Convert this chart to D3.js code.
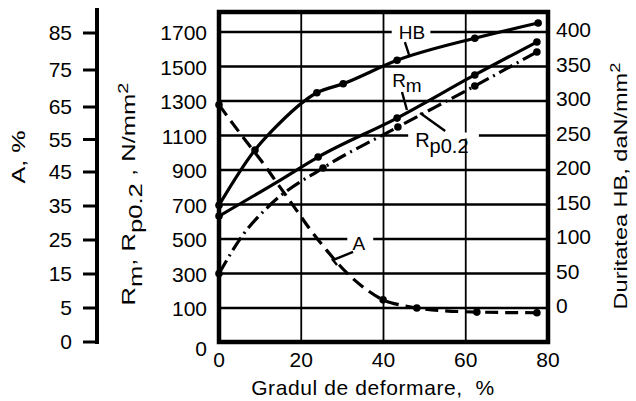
<!DOCTYPE html>
<html>
<head>
<meta charset="utf-8">
<script src="https://cdn.jsdelivr.net/npm/d3@7"></script>
<style>
  body { margin: 0; background: #fff; }
  svg { display: block; font-family: "Liberation Sans", Arial, sans-serif; }
  text { white-space: pre; }
</style>
</head>
<body>
<svg width="636" height="401"></svg>
<script>
// values; x = gradul de deformare, %
const hbDeform = [0, 8.75, 13.1, 23.8, 30.2, 43.3, 62.2, 77.6]
const hbValues = [149, 229, 258, 312, 325, 359, 391, 413]
const hbMarks  = [1, 1, 0, 1, 1, 1, 1, 1]

const rmDeform = [0, 14.1, 24.1, 43.3, 62.2, 77.3]
const rmValues = [633, 830, 975, 1201, 1451, 1642]
const rmMarks  = [1, 0, 1, 1, 1, 1]

const rpDeform = [0, 5.8, 12.4, 25.3, 43.5, 62.2, 77.3]
const rpValues = [300, 523, 697, 912, 1149, 1387, 1584]
const rpMarks  = [1, 0, 0, 1, 1, 1, 1]

const aDeform = [0, 3.4, 7.5, 10.5, 14.1, 19.0, 22.1, 26.3, 31.1, 36.0, 39.9, 44.0, 48.1, 62.7, 77.3]
const aValues = [65.6, 59.8, 53, 48.1, 41.8, 33.5, 28.2, 21.8, 15.3, 10.3, 7.4, 5.9, 5, 4.4, 4.3]
const aMarks  = [1, 0, 0, 0, 0, 0, 0, 0, 0, 0, 1, 0, 1, 1, 1]

const xTicks  = [0, 20, 40, 60, 80]
const rmTicks = [0, 100, 300, 500, 700, 900, 1100, 1300, 1500, 1700]
const hbTicks = [0, 50, 100, 150, 200, 250, 300, 350, 400]
const aTicks  = [0, 5, 15, 25, 35, 45, 55, 65, 75, 85]

const svg = d3.select("svg")
const font = 21

const x  = d3.scaleLinear().domain([0, 80]).range([219, 548])
// the printed scales are not quite linear, so use the tick positions
const rm = d3.scaleLinear().domain([0, 100, 1700]).range([342, 308, 32])
const hb = d3.scaleLinear().domain([0, 400]).range([308, 32])
const a  = d3.scaleLinear().domain([0, 5, 45, 65, 85]).range([342, 308, 172, 107, 33])

const plotTop = 12, plotBottom = 342

// grid
svg.append("g").selectAll("line")
  .data(rmTicks.filter(d => d > 0))
  .join("line")
    .attr("x1", x(0)).attr("x2", x(80))
    .attr("y1", d => rm(d)).attr("y2", d => rm(d))
    .attr("stroke", "#000").attr("stroke-width", 2.6)

svg.append("g").selectAll("line")
  .data(xTicks.slice(1, -1))
  .join("line")
    .attr("x1", d => x(d)).attr("x2", d => x(d))
    .attr("y1", plotTop).attr("y2", plotBottom)
    .attr("stroke", "#000").attr("stroke-width", 1.8)

// curves
const series = [
  {xs: hbDeform, ys: hbValues, m: hbMarks, s: hb, dash: null},
  {xs: rmDeform, ys: rmValues, m: rmMarks, s: rm, dash: null},
  {xs: rpDeform, ys: rpValues, m: rpMarks, s: rm, dash: "15,5,2,5"},
  {xs: aDeform,  ys: aValues,  m: aMarks,  s: a,  dash: "13,7"}
]

series.forEach(ser => {
  const pts = ser.xs.map((d, i) => [x(d), ser.s(ser.ys[i]), ser.m[i]])
  svg.append("path")
    .attr("d", d3.line().curve(d3.curveMonotoneX)(pts))
    .attr("fill", "none")
    .attr("stroke", "#000")
    .attr("stroke-width", 3.2)
    .attr("stroke-dasharray", ser.dash)
  svg.append("g").selectAll("circle")
    .data(pts.filter(p => p[2]))
    .join("circle")
      .attr("cx", p => p[0]).attr("cy", p => p[1])
      .attr("r", 3.8).attr("fill", "#000")
})

// frame
svg.append("rect")
  .attr("x", x(0)).attr("y", plotTop)
  .attr("width", x(80) - x(0)).attr("height", plotBottom - plotTop)
  .attr("fill", "none").attr("stroke", "#000").attr("stroke-width", 4.5)

// curve labels, with a white gap in the grid where they sit
function gap(x0, x1, y) {
  svg.append("rect").attr("x", x0).attr("y", y - 3).attr("width", x1 - x0).attr("height", 6).attr("fill", "#fff")
}
function leader(pts) {
  svg.append("path").attr("d", d3.line()(pts.map(p => [x(p[0]), rm(p[1])])))
    .attr("fill", "none").attr("stroke", "#000").attr("stroke-width", 2.4)
}

gap(x(42), x(51.4), rm(1700))
svg.append("text").attr("x", x(46.9)).attr("y", rm(1700) + 7)
  .attr("text-anchor", "middle").attr("font-size", 19).text("HB")
leader([[45.2, 1642], [46.4, 1555]])

const rmLab = svg.append("text").attr("x", x(42.1)).attr("y", rm(1381)).attr("font-size", 19)
rmLab.append("tspan").text("R")
rmLab.append("tspan").attr("dy", 5).text("m")
leader([[44.5, 1352], [45.7, 1248]])

gap(x(46), x(63.2), rm(1100))
const rpLab = svg.append("text").attr("x", x(47.7)).attr("y", rm(1033)).attr("font-size", 20)
rpLab.append("tspan").text("R")
rpLab.append("tspan").attr("dy", 6).text("p0.2")
leader([[48.9, 1230], [55, 1126]])

gap(x(31.2), x(37.5), rm(500))
svg.append("text").attr("x", x(34)).attr("y", rm(436))
  .attr("text-anchor", "middle").attr("font-size", 19).text("A")
leader([[32.6, 425], [27.7, 378], [28.7, 349]])

// bottom axis labels
svg.append("g").selectAll("text")
  .data(xTicks)
  .join("text")
    .attr("x", d => x(d)).attr("y", 367)
    .attr("text-anchor", "middle").attr("font-size", font)
    .text(d => d)

svg.append("text").attr("x", 373).attr("y", 395)
  .attr("text-anchor", "middle").attr("font-size", font)
  .attr("letter-spacing", 0.6)
  .text("Gradul de deformare,  %")

// Rm / Rp0.2 labels (no axis line)
svg.append("g").selectAll("text")
  .data(rmTicks)
  .join("text")
    .attr("x", 207)
    .attr("y", d => d === 0 ? rm(d) + 7 : rm(d) + 1)
    .attr("dy", "0.35em")
    .attr("text-anchor", "end").attr("font-size", font)
    .text(d => d)

// HB labels on the right
svg.append("g").selectAll("text")
  .data(hbTicks)
  .join("text")
    .attr("x", 556)
    .attr("y", d => hb(d) - 2)
    .attr("dy", "0.35em")
    .attr("font-size", font)
    .text(d => d)

// A axis on the far left
const aAxis = svg.append("g")
aAxis.append("line")
  .attr("x1", 97).attr("x2", 97).attr("y1", 8).attr("y2", 344)
  .attr("stroke", "#000").attr("stroke-width", 4)
aAxis.selectAll("line.tick")
  .data(aTicks)
  .join("line").attr("class", "tick")
    .attr("x1", 83).attr("x2", 97)
    .attr("y1", d => a(d)).attr("y2", d => a(d))
    .attr("stroke", "#000").attr("stroke-width", 3)
aAxis.selectAll("text")
  .data(aTicks)
  .join("text")
    .attr("x", 72).attr("y", d => a(d))
    .attr("dy", "0.35em")
    .attr("text-anchor", "end").attr("font-size", font)
    .text(d => d)

// rotated titles, stretched along their length like the print
function vTitle(cx, cy, len, parts) {
  const t = svg.append("text").attr("font-size", 18).attr("text-anchor", "middle")
  parts.forEach(p => t.append("tspan").attr("dy", p[1] || 0).attr("font-size", p[2] || null).text(p[0]))
  const w = t.node().getComputedTextLength()
  t.attr("transform", `translate(${cx},${cy}) rotate(-90) scale(${len / w},1)`)
}

vTitle(25, 157, 53, [["A, %"]])
vTitle(135, 194, 223, [["R"], ["m", 7], [", R", -7], ["p0.2", 7], [" , N/mm", -7], ["2", -7, 14]])
vTitle(627, 186, 247, [["Duritatea HB, daN/mm"], ["2", -7, 14]])
</script>
</body>
</html>
